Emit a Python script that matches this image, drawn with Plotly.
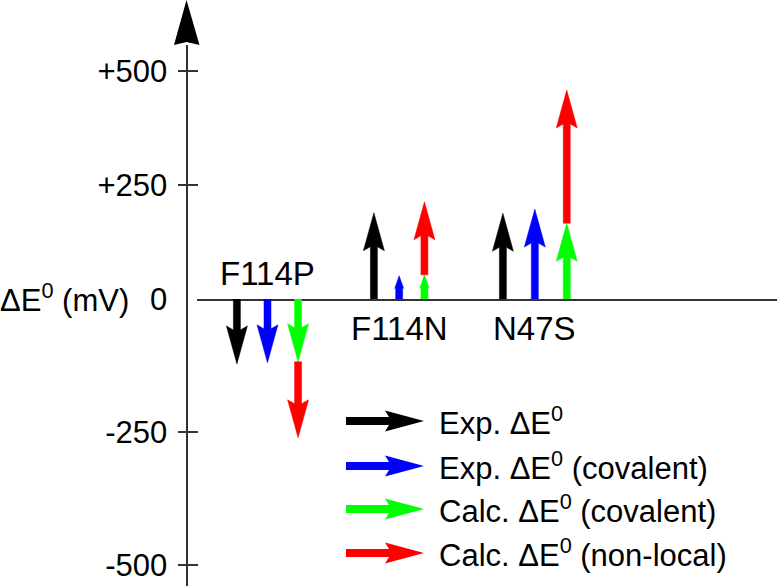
import plotly.graph_objects as go

# ---------------- data (mV) ----------------
categories = ["F114P", "F114N", "N47S"]
exp_dE = [-122, 189, 188]          # Exp. ΔE0
exp_cov = [-120, 51, 197]          # Exp. ΔE0 (covalent)
calc_cov = [-118, 53, 166]         # Calc. ΔE0 (covalent)
calc_nonlocal = [-143, 160, 292]   # Calc. ΔE0 (non-local), stacked on covalent

series_names = ["Exp. ΔE<sup>0</sup>", "Exp. ΔE<sup>0</sup> (covalent)",
                "Calc. ΔE<sup>0</sup> (covalent)", "Calc. ΔE<sup>0</sup> (non-local)"]
series_colors = ["#000000", "#0000ff", "#00ff00", "#ff0000"]

pos_tickvals = [0, 250, 500]
pos_ticktext = ["0", "+250", "+500"]
neg_tickvals = [-250, -500]
neg_ticktext = ["-250", "-500"]

# ---------------- layout constants (pixels) ----------------
W, H = 778, 586
AXIS_X = 186.5
ZERO_Y = 299
TOP_Y = 45
X_START = 197
X_END = 777
UP_SCALE = 0.4563     # px per mV above zero
LOW_SCALE = 0.532     # px per mV below zero
X_UNIT = 133.0        # px per x unit
X_MIN = -0.3

up_range = [0, (ZERO_Y - TOP_Y) / UP_SCALE]
low_range = [-(H - ZERO_Y) / LOW_SCALE, 0]
x_range = [X_MIN, X_MIN + (X_END - X_START) / X_UNIT]

group_pos = [0.0, 1.03, 2.0]
group_step = [0.23, 0.19, 0.24]

FONT = "Liberation Sans, Arial, sans-serif"


def px(x):
    return x / W


def py(y):
    return 1 - y / H


def arrow_xy(xc, y0, y1, sy):
    """Closed polygon of a vertical arrow from y0 to y1 (data units)."""
    d = 1 if y1 > y0 else -1
    L = abs(y1 - y0) * sy
    hl, hw, sw, notch = 38.0, 10.5, 3.5, 4.0
    if L < 45:
        hl, hw, sw, notch = 0.55 * L, 4.5, 3.5, 1.0
    ddx = lambda p: p / X_UNIT
    ddy = lambda p: d * p / sy
    hb = y1 - ddy(hl)
    nb = hb + ddy(notch)
    xs = [xc - ddx(sw), xc - ddx(sw), xc - ddx(hw), xc, xc + ddx(hw), xc + ddx(sw), xc + ddx(sw), xc - ddx(sw)]
    ys = [y0, nb, hb, y1, hb, nb, y0, y0]
    return xs, ys


fig = go.Figure()

for i, cat in enumerate(categories):
    starts = [0, 0, 0, calc_cov[i]]
    ends = [exp_dE[i], exp_cov[i], calc_cov[i], calc_cov[i] + calc_nonlocal[i]]
    xoff = [0, 1, 2, 2]
    for s in range(4):
        neg = ends[s] < 0 or (ends[s] == 0 and starts[s] < 0)
        sy = LOW_SCALE if neg else UP_SCALE
        xc = group_pos[i] + xoff[s] * group_step[i]
        xs, ys = arrow_xy(xc, starts[s], ends[s], sy)
        fig.add_trace(go.Scatter(
            x=xs, y=ys, mode="lines", fill="toself",
            fillcolor=series_colors[s], line=dict(color=series_colors[s], width=0.5),
            yaxis="y2" if neg else "y", hoverinfo="skip", showlegend=False,
            name=series_names[s]))
    neg_cat = exp_dE[i] < 0
    fig.add_annotation(
        x=group_pos[i] + group_step[i], y=0, xref="x", yref="y",
        text=cat, showarrow=False, xanchor="center", yanchor="middle",
        yshift=26 if neg_cat else -29,
        font=dict(family=FONT, size=33, color="#000"))

# empty traces so that the tick-only overlay axes get drawn
for ax in ("y3", "y4"):
    fig.add_trace(go.Scatter(x=[None], y=[None], yaxis=ax, showlegend=False, hoverinfo="skip"))

# ---------------- legend (drawn) ----------------
legend_y = [421, 466, 509, 553]
LEG_X0, LEG_X1, LEG_TEXT_X = 346, 424, 437
shapes = []
for s in range(4):
    yc = legend_y[s]
    hl, hw, sw, notch = 39, 10.5, 4, 4
    pts = [(LEG_X0, yc - sw), (LEG_X1 - hl + notch, yc - sw), (LEG_X1 - hl, yc - hw),
           (LEG_X1, yc), (LEG_X1 - hl, yc + hw), (LEG_X1 - hl + notch, yc + sw), (LEG_X0, yc + sw)]
    path = "M " + " L ".join(f"{px(a):.5f},{py(b):.5f}" for a, b in pts) + " Z"
    shapes.append(dict(type="path", xref="paper", yref="paper", path=path,
                       fillcolor=series_colors[s], line=dict(width=0)))
    fig.add_annotation(x=px(LEG_TEXT_X), y=py(yc), xref="paper", yref="paper",
                       text=series_names[s], showarrow=False, xanchor="left", yanchor="middle",
                       font=dict(family=FONT, size=31, color="#000"))

# y-axis arrow head
head = [(AXIS_X, 0), (AXIS_X + 13, TOP_Y), (AXIS_X, TOP_Y - 3), (AXIS_X - 12.5, TOP_Y)]
shapes.append(dict(type="path", xref="paper", yref="paper",
                   path="M " + " L ".join(f"{px(a):.5f},{py(b):.5f}" for a, b in head) + " Z",
                   fillcolor="#000", line=dict(width=0)))

fig.add_annotation(x=0, y=py(ZERO_Y), xref="paper", yref="paper",
                   text="ΔE<sup>0</sup> (mV)", showarrow=False, xanchor="left", yanchor="middle",
                   xshift=-2, yshift=1, font=dict(family=FONT, size=31, color="#000"))

zero_frac = 1 - ZERO_Y / H
top_frac = 1 - TOP_Y / H
tickfont = dict(family=FONT, size=31, color="#000")

fig.update_layout(
    width=W, height=H, autosize=False, template="none",
    margin=dict(l=0, r=0, t=0, b=0, pad=0),
    paper_bgcolor="white", plot_bgcolor="rgba(0,0,0,0)",
    showlegend=False, shapes=shapes,
    xaxis=dict(domain=[px(X_START), px(X_END)], range=x_range, anchor="y",
               showline=True, linecolor="#333", linewidth=2, showgrid=False,
               zeroline=False, showticklabels=False, ticks=""),
    yaxis=dict(domain=[zero_frac, top_frac], range=up_range, anchor="free", position=px(AXIS_X),
               showline=True, linecolor="#333", linewidth=2, showgrid=False, zeroline=False,
               tickmode="array", tickvals=pos_tickvals, ticktext=pos_ticktext, ticks="",
               ticklabelstandoff=12, tickfont=tickfont, automargin=False),
    yaxis2=dict(domain=[0, zero_frac], range=low_range, anchor="free", position=px(AXIS_X),
                showline=True, linecolor="#333", linewidth=2, showgrid=False, zeroline=False,
                tickmode="array", tickvals=neg_tickvals, ticktext=neg_ticktext, ticks="",
                ticklabelstandoff=12, tickfont=tickfont, automargin=False),
    yaxis3=dict(overlaying="y", range=up_range, anchor="free", position=px(198),
                showline=False, showgrid=False, zeroline=False, showticklabels=False,
                tickmode="array", tickvals=pos_tickvals[1:], ticks="outside", ticklen=20,
                tickwidth=2, tickcolor="#333", automargin=False),
    yaxis4=dict(overlaying="y2", range=low_range, anchor="free", position=px(198),
                showline=False, showgrid=False, zeroline=False, showticklabels=False,
                tickmode="array", tickvals=neg_tickvals, ticks="outside", ticklen=20,
                tickwidth=2, tickcolor="#333", automargin=False),
)

fig.write_html("out.html", config={"displayModeBar": False},
               post_script="document.body.style.margin='0';document.body.style.overflow='hidden';")
